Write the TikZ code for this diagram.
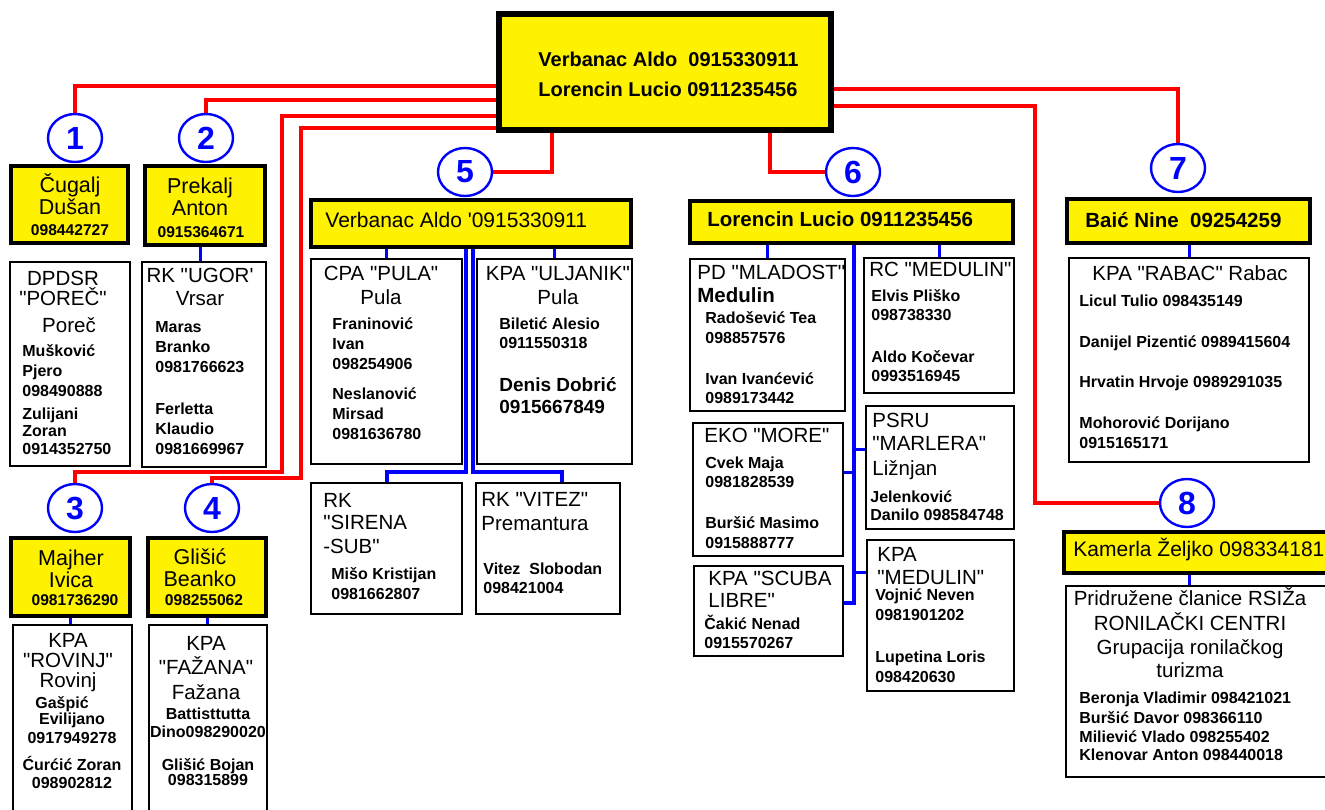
\documentclass[tikz,border=0pt]{standalone}
\usepackage{fontspec}
\setmainfont{Liberation Sans}[Ligatures=TeXOff]
\usetikzlibrary{shapes.geometric,calc}

\pgfdeclarelayer{bg}
\pgfsetlayers{bg,main}

\newcommand\setfs[2]{\fontsize{#1}{#2}\selectfont\lineskiplimit=-20pt\relax}

% multi-line texts are placed by the baseline of their last line
\tikzset{
	sz/.style 2 args={minimum width=#1,minimum height=#2},
	ybox/.style={draw,line width=2.4pt,fill=yellow,inner sep=0pt},
	wbox/.style={draw,line width=1pt,fill=white,inner sep=0pt},
	num/.style={draw=blue,ellipse,line width=1.2pt,fill=white,inner sep=0pt,
		minimum width=27pt,minimum height=24pt,text=blue,font={\bfseries\setfs{16}{16}}},
	rline/.style={red,line width=2pt},
	bline/.style={blue,line width=1.5pt},
	ttl/.style={inner sep=0pt,align=left,anchor=base west,font={\bfseries\setfs{10}{15}}},
	yn/.style={inner sep=0pt,align=center,anchor=base,font={\setfs{10.75}{11}}},
	yp/.style={inner sep=0pt,anchor=base,font={\bfseries\setfs{7.8}{9}}},
	yh/.style={inner sep=0pt,anchor=base west,font={\setfs{10.5}{12}}},
	hdc/.style={inner sep=0pt,align=center,anchor=base,font={\setfs{10.25}{10}}},
	hdl/.style={inner sep=0pt,align=left,anchor=base west,font={\setfs{10.25}{10}}},
	nml/.style={inner sep=0pt,align=left,anchor=base west,font={\bfseries\setfs{8}{10}}},
	nmc/.style={inner sep=0pt,align=center,anchor=base,font={\bfseries\setfs{8}{10}}}
}

\begin{document}
\begin{tikzpicture}[x=0.5pt,y=-0.5pt]
	\useasboundingbox (0,0) rectangle (1325,809);
	\clip (0,0) rectangle (1325,809);

	% leaders
	\node [ybox,line width=2.6pt,sz={166pt}{58pt}] (main) at (665,72) {};
	\node [ttl] (maint) at (538,96) {Verbanac Aldo\ \ 0915330911\\Lorencin Lucio 0911235456};

	% numbered circles
	\node [num] (c1) at (75,138) {1};
	\node [num] (c2) at (206,138) {2};
	\node [num] (c3) at (75,508) {3};
	\node [num] (c4) at (212,508) {4};
	\node [num] (c5) at (465,172) {5};
	\node [num] (c6) at (853,172) {6};
	\node [num] (c7) at (1178,168) {7};
	\node [num] (c8) at (1187,503) {8};

	% coordinators
	\node [ybox,sz={58.5pt}{38.5pt}] (y1) at (69.5,204.5) {};
	\node [ybox,sz={60pt}{39.5pt}] (y2) at (205,205.5) {};
	\node [ybox,sz={59.5pt}{39pt}] (y3) at (70.5,577) {};
	\node [ybox,sz={59pt}{39pt}] (y4) at (207,577) {};
	\node [ybox,sz={160pt}{23.5pt}] (y5) at (471,223.5) {};
	\node [ybox,sz={161.5pt}{21pt}] (y6) at (851.5,222) {};
	\node [ybox,sz={121.5pt}{22pt}] (y7) at (1188.5,221) {};
	\node [ybox,sz={135.5pt}{20.5pt}] (y8) at (1199.5,552.5) {};

	\node [yn] (y1n) at (70,214) {Čugalj\\Dušan};
	\node [yp] (y1p) at (70,235) {098442727};
	\node [yn] (y2n) at (200,215) {Prekalj\\Anton};
	\node [yp] (y2p) at (201,237) {0915364671};
	\node [yn] (y3n) at (71,587) {Majher\\Ivica};
	\node [yp] (y3p) at (75,605) {0981736290};
	\node [yn] (y4n) at (200,586) {Glišić\\Beanko};
	\node [yp] (y4p) at (204,605) {098255062};
	\node [yh] (y5h) at (325,227) {Verbanac Aldo '0915330911};
	\node [yh,font={\bfseries\setfs{10.25}{12}}] (y6h) at (707,226) {Lorencin Lucio 0911235456};
	\node [yh,font={\bfseries\setfs{10.25}{12}}] (y7h) at (1085,227) {Baić Nine\ \ 09254259};
	\node [yh] (y8h) at (1073,556) {Kamerla Željko 098334181};

	% clubs
	\node [wbox,sz={60pt}{102pt}] (w1) at (70,364) {};
	\node [hdc] (w1h) at (63,332) {DPDSR\\"POREČ"\\[3.5pt]\hspace*{6pt}Poreč};
	\node [nml] (w1n) at (22,454) {Mušković\\Pjero\\098490888\\[1.5pt]Zulijani\\[-1.5pt]Zoran\\[-1pt]0914352750};

	\node [wbox,sz={62pt}{102.5pt}] (w2) at (204,364.5) {};
	\node [hdc] (w2h) at (200,305) {RK "UGOR'\\[1.5pt]Vrsar};
	\node [nml] (w2n) at (155,454) {Maras\\Branko\\0981766623\\[11pt]Ferletta\\Klaudio\\0981669967};

	\node [wbox,sz={59.5pt}{97.5pt}] (w3) at (72.5,722.5) {};
	\node [hdc] (w3h) at (68,687) {KPA\\"ROVINJ"\\Rovinj};
	\node [nmc] (w3n) at (72,788) {Gašpić\hspace*{10pt}\\[-2pt]Evilijano\\[-0.5pt]0917949278\\[3.5pt]Ćurćić Zoran\\[-1pt]098902812};

	\node [wbox,sz={59pt}{97.5pt}] (w4) at (208,722.5) {};
	\node [hdc] (w4h) at (206,699) {KPA\\[2pt]"FAŽANA"\\[2.5pt]Fažana};
	\node [nmc] (w4n) at (208,785) {Battisttutta\\[-1pt]Dino098290020\\[6.5pt]Glišić Bojan\\[-2.5pt]098315899};

	\node [wbox,sz={75.5pt}{102.5pt}] (w5a) at (386.5,361.5) {};
	\node [hdc] (w5ah) at (381,304) {CPA "PULA"\\[2pt]Pula};
	\node [nml] (w5an) at (332,439) {Franinović\\Ivan\\098254906\\[5pt]Neslanović\\Mirsad\\0981636780};

	\node [wbox,sz={77.5pt}{102.5pt}] (w5b) at (554.5,361.5) {};
	\node [hdc] (w5bh) at (558,304) {KPA "ULJANIK"\\[2pt]Pula};
	\node [nml] (w5bn) at (499,348) {Biletić Alesio\\[-0.5pt]0911550318};
	\node [nml,font={\bfseries\setfs{9.5}{11}}] (w5bd) at (499,413) {Denis Dobrić\\0915667849};

	\node [wbox,sz={75.5pt}{65.5pt}] (w5c) at (386.5,548.5) {};
	\node [hdl,font={\setfs{10.25}{11}}] (w5ch) at (323,553) {RK\\"SIRENA\\[1pt]-SUB"};
	\node [nml] (w5cn) at (331,599) {Mišo Kristijan\\0981662807};

	\node [wbox,sz={72pt}{65.5pt}] (w5d) at (548,548.5) {};
	\node [hdl] (w5dh) at (481,530) {RK "VITEZ"\\[2pt]Premantura};
	\node [nml] (w5dn) at (483,593) {Vitez\ \ Slobodan\\[-0.5pt]098421004};

	\node [wbox,sz={77.5pt}{76pt}] (w6a) at (767.5,335) {};
	\node [hdl] (w6ah) at (697,302) {PD "MLADOST"\\[1.5pt]\textbf{Medulin}};
	\node [nml] (w6an) at (705,403) {Radošević Tea\\098857576\\[10.5pt]Ivan Ivanćević\\[-0.5pt]0989173442};

	\node [wbox,sz={75pt}{67.5pt}] (w6b) at (939,325.5) {};
	\node [hdl] (w6bh) at (869,276) {RC "MEDULIN"};
	\node [nml] (w6bn) at (871,381) {Elvis Pliško\\[-0.5pt]098738330\\[11pt]Aldo Kočevar\\[-0.5pt]0993516945};

	\node [wbox,sz={75pt}{66.5pt}] (w6c) at (768,489.5) {};
	\node [hdl] (w6ch) at (704,442) {EKO "MORE"};
	\node [nml] (w6cn) at (705,548) {Cvek Maja\\[-0.5pt]0981828539\\[10.5pt]Buršić Masimo\\0915888777};

	\node [wbox,sz={74.5pt}{45pt}] (w6d) at (768.5,611) {};
	\node [hdl] (w6dh) at (708,607) {KPA "SCUBA\\[1pt]LIBRE"};
	\node [nml] (w6dn) at (704,648) {Čakić Nenad\\[-0.5pt]0915570267};

	\node [wbox,sz={74pt}{61.5pt}] (w6e) at (940,467.5) {};
	\node [hdl] (w6eh) at (872,475) {PSRU\\[1.5pt]"MARLERA"\\[2.5pt]Ližnjan};
	\node [nml] (w6en) at (870,520) {Jelenković\\[-1pt]Danilo 098584748};

	\node [wbox,sz={73.5pt}{75.5pt}] (w6f) at (940.5,615.5) {};
	\node [hdl] (w6fh) at (877,584) {KPA\\[1.5pt]"MEDULIN"};
	\node [nml] (w6fn) at (875,682) {Vojnić Neven\\0981901202\\[11pt]Lupetina Loris\\098420630};

	\node [wbox,sz={120pt}{102pt}] (w7) at (1189,360) {};
	\node [hdl] (w7h) at (1092,280) {KPA "RABAC" Rabac};
	\node [nml] (w7n) at (1079,448) {Licul Tulio 098435149\\[10.5pt]Danijel Pizentić 0989415604\\[10pt]Hrvatin Hrvoje 0989291035\\[10.5pt]Mohorović Dorijano\\0915165171};

	\node [wbox,sz={134.5pt}{95.5pt}] (w8) at (1200.5,681.5) {};
	\node [hdc] (w8h) at (1190,677) {Pridružene članice RSIŽa\\[2.5pt]RONILAČKI CENTRI\\[2pt]Grupacija ronilačkog\\[1.5pt]turizma};
	\node [nml] (w8n) at (1079,760) {Beronja Vladimir 098421021\\Buršić Davor 098366110\\[-0.5pt]Miliević Vlado 098255402\\[-1pt]Klenovar Anton 098440018};

	% bends
	\coordinate (k3) at (282,472);
	\coordinate (k4) at (301,478);
	\coordinate (k8) at (1035,503);
	\coordinate (k5c) at (466,472);
	\coordinate (k5d) at (473,472);
	\coordinate (k6) at (854,603);

	\begin{pgfonlayer}{bg}
		\draw[rline] ($(main.north west)+(0,75)$) -| (c1.north);
		\draw[rline] ($(main.north west)+(0,89)$) -| (c2.north);
		\draw[rline] ($(main.north west)+(0,105)$) -| (k3) -| (c3.north);
		\draw[rline] ($(main.north west)+(0,117)$) -| (k4) -| (c4.north);
		\draw[rline] ($(main.south west)+(56,0)$) |- (c5.east);
		\draw[rline] ($(main.south west)+(274,0)$) |- (c6.west);
		\draw[rline] ($(main.north east)+(0,78)$) -| (c7.north);
		\draw[rline] ($(main.north east)+(0,95)$) -| (k8) -- (c8.west);

		\draw[bline] ($(y2.south)+(-5,0)$) coordinate (t2) -- (t2 |- w2.north);
		\draw[bline] (y3.south) -- (y3.south |- w3.north);
		\draw[bline] (y4.south) -- (y4.south |- w4.north);
		\draw[bline] (w5a.north) -- (w5a.north |- y5.south);
		\draw[bline] (w5b.north) -- (w5b.north |- y5.south);
		\draw[bline,line width=2pt] (k5c |- y5.south) -- (k5c) -| (w5c.north);
		\draw[bline,line width=2pt] (k5d |- y5.south) -- (k5d) -| ($(w5d.north)+(14,0)$);
		\draw[bline] (w6a.north) -- (w6a.north |- y6.south);
		\draw[bline] (w6b.north) -- (w6b.north |- y6.south);
		\draw[bline,line width=1.8pt] (k6 |- y6.south) -- (k6) -- (k6 -| w6d.east);
		\draw[bline] ($(w6e.north west)+(0,44)$) coordinate (t6e) -- (t6e -| k6);
		\draw[bline] ($(w6c.north east)+(0,50)$) coordinate (t6c) -- (t6c -| k6);
		\draw[bline] ($(w6f.north west)+(0,33)$) coordinate (t6f) -- (t6f -| k6);
		\draw[bline] (w7.north) -- (w7.north |- y7.south);
		\draw[bline] ($(w8.north west)+(124,0)$) coordinate (t8) -- (t8 |- y8.south);
	\end{pgfonlayer}
\end{tikzpicture}
\end{document}
